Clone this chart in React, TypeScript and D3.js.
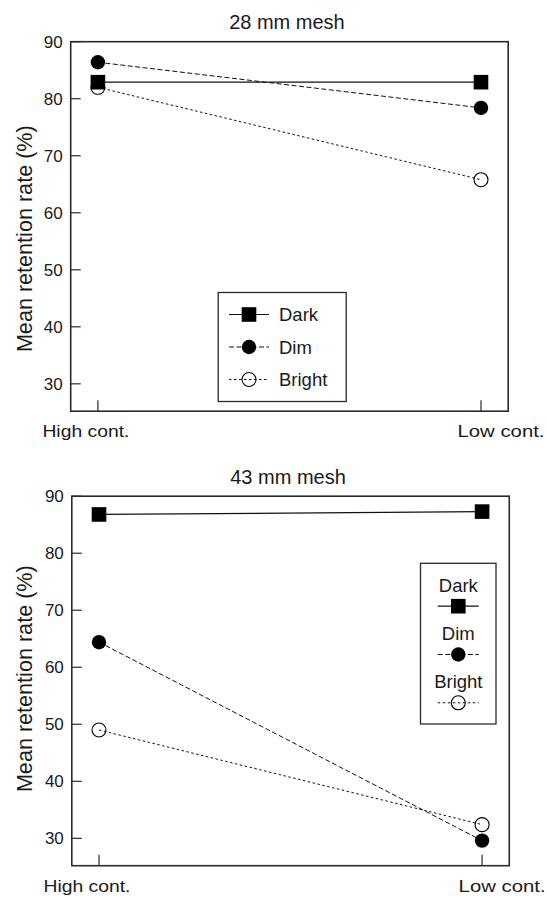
import React from "react";
import * as d3 from "d3";

const categories = ["High cont.", "Low cont."];
const yTicks = [30, 40, 50, 60, 70, 80, 90];
const seriesNames = ["Dark", "Dim", "Bright"];
const titles = ["28 mm mesh", "43 mm mesh"];

const mesh28Dark = [82.9, 82.9];
const mesh28Dim = [86.4, 78.4];
const mesh28Bright = [82.0, 65.8];

const mesh43Dark = [86.8, 87.3];
const mesh43Dim = [64.4, 29.6];
const mesh43Bright = [49.0, 32.4];

const FONT = "'Liberation Sans', Arial, Helvetica, sans-serif";
const INK = "#1a1a1a";

const styles: Record<string, { dash: string | null; marker: string; width: number }> = {
  Dark: { dash: null, marker: "square", width: 1.2 },
  Dim: { dash: "5,2.5", marker: "filled", width: 1 },
  Bright: { dash: "2.5,2.5", marker: "open", width: 1 },
};

function Marker({ kind, x, y }: { kind: string; x: number; y: number }) {
  if (kind === "square")
    return <rect x={x - 7.3} y={y - 7.3} width={14.6} height={14.6} fill="#000" />;
  if (kind === "filled") return <circle cx={x} cy={y} r={7.2} fill="#000" />;
  return <circle cx={x} cy={y} r={7} fill="none" stroke="#000" strokeWidth={1.1} />;
}

function Panel({
  title,
  data,
  left,
  top,
  yLabelCenter,
  legend,
}: {
  title: string;
  data: Record<string, number[]>;
  left: number;
  top: number;
  yLabelCenter: number;
  legend: "row" | "stack";
}) {
  const W = 437.5;
  const H = 369.5;
  const x = d3.scalePoint<string>().domain(categories).range([left, left + W]).padding(0.071);
  const y = d3.scaleLinear().domain([25.2, 90]).range([top + H, top]);
  const line = d3
    .line<[string, number]>()
    .x((d) => x(d[0]) as number)
    .y((d) => y(d[1]));
  const drawOrder = ["Bright", "Dim", "Dark"];

  return (
    <g fontFamily={FONT}>
      <text x={left + W / 2 - 2.5} y={top - 12.5} textAnchor="middle" fontSize={20} fill={INK}>
        {title}
      </text>
      <rect x={left} y={top} width={W} height={H} fill="none" stroke="#2b2b2b" strokeWidth={1.6} />
      {yTicks.map((t) => (
        <g key={t}>
          <line x1={left} x2={left + 10} y1={y(t)} y2={y(t)} stroke="#2b2b2b" strokeWidth={1.2} />
          <text x={left - 8} y={y(t)} dy="0.36em" textAnchor="end" fontSize={17} fill={INK}>
            {t}
          </text>
        </g>
      ))}
      {categories.map((c, i) => (
        <g key={c}>
          <line
            x1={x(c)}
            x2={x(c)}
            y1={top + H}
            y2={top + H - 11}
            stroke="#2b2b2b"
            strokeWidth={1.2}
          />
          <text
            x={(x(c) as number) + (i === 0 ? -12 : 20)}
            y={top + H + 26}
            textAnchor="middle"
            fontSize={16.5}
            textLength={87}
            lengthAdjust="spacingAndGlyphs"
            fill={INK}
          >
            {c}
          </text>
        </g>
      ))}
      <text
        transform={`translate(31.5,${yLabelCenter}) rotate(-90)`}
        textAnchor="middle"
        fontSize={21.6}
        fill={INK}
      >
        Mean retention rate (%)
      </text>
      {drawOrder.map((s) => {
        const pts = categories.map((c, i) => [c, data[s][i]] as [string, number]);
        return (
          <g key={s}>
            <path
              d={line(pts) as string}
              fill="none"
              stroke="#111"
              strokeWidth={styles[s].width}
              strokeDasharray={styles[s].dash ?? undefined}
            />
            {pts.map((p) => (
              <Marker key={p[0]} kind={styles[s].marker} x={x(p[0]) as number} y={y(p[1])} />
            ))}
          </g>
        );
      })}
      {legend === "row" ? (
        <g>
          <rect x={218.2} y={292.5} width={128} height={109} fill="#fff" stroke="#2b2b2b" strokeWidth={1.3} />
          {seriesNames.map((s, i) => {
            const cy = 314.5 + i * 32.5;
            return (
              <g key={s}>
                <line
                  x1={229}
                  x2={269}
                  y1={cy}
                  y2={cy}
                  stroke="#111"
                  strokeWidth={styles[s].width}
                  strokeDasharray={styles[s].dash ?? undefined}
                />
                <Marker kind={styles[s].marker} x={249} y={cy} />
                <text x={279} y={cy} dy="0.36em" fontSize={18.5} fill={INK}>
                  {s}
                </text>
              </g>
            );
          })}
        </g>
      ) : (
        <g>
          <rect x={420.5} y={563.3} width={75.5} height={160.7} fill="#fff" stroke="#2b2b2b" strokeWidth={1.3} />
          {seriesNames.map((s, i) => {
            const by = 591.7 + i * 48.3;
            const cx = 458.3;
            return (
              <g key={s}>
                <text x={cx} y={by} textAnchor="middle" fontSize={18.5} fill={INK}>
                  {s}
                </text>
                <line
                  x1={cx - 20.5}
                  x2={cx + 20.5}
                  y1={by + 14.5}
                  y2={by + 14.5}
                  stroke="#111"
                  strokeWidth={styles[s].width}
                  strokeDasharray={styles[s].dash ?? undefined}
                />
                <Marker kind={styles[s].marker} x={cx} y={by + 14.5} />
              </g>
            );
          })}
        </g>
      )}
    </g>
  );
}

export default function App() {
  const d28 = { Dark: mesh28Dark, Dim: mesh28Dim, Bright: mesh28Bright };
  const d43 = { Dark: mesh43Dark, Dim: mesh43Dim, Bright: mesh43Bright };
  return (
    <svg
      width={547}
      height={900}
      viewBox="0 0 547 900"
      style={{ position: "absolute", left: 0, top: 0, background: "#fff" }}
    >
      <rect width={547} height={900} fill="#fff" />
      <Panel title={titles[0]} data={d28} left={70.7} top={41.7} yLabelCenter={238.7} legend="row" />
      <Panel title={titles[1]} data={d43} left={71.8} top={496.2} yLabelCenter={678.7} legend="stack" />
    </svg>
  );
}
